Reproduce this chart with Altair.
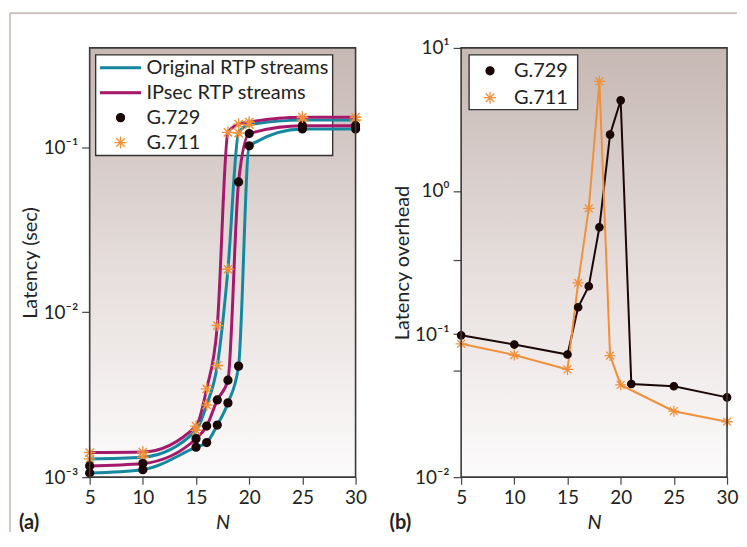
import altair as alt
import pandas as pd

# ---------------- data ----------------
N_A = [5, 10, 15, 16, 17, 18, 19, 20, 25, 30]
orig_g729 = [1.06e-3, 1.11e-3, 1.52e-3, 1.62e-3, 2.07e-3, 2.82e-3, 4.71e-3, 0.102, 0.129, 0.129]
orig_g711 = [1.29e-3, 1.32e-3, 1.92e-3, 2.74e-3, 4.75e-3, 0.0182, 0.122, 0.137, 0.146, 0.146]
ipsec_g729 = [1.17e-3, 1.21e-3, 1.71e-3, 2.04e-3, 2.94e-3, 3.87e-3, 0.0616, 0.121, 0.135, 0.135]
ipsec_g711 = [1.41e-3, 1.42e-3, 2.04e-3, 3.43e-3, 8.3e-3, 0.123, 0.138, 0.142, 0.152, 0.152]

N_B729 = [5, 10, 15, 16, 17, 18, 19, 20, 21, 25, 30]
ovh_g729 = [0.098, 0.0845, 0.072, 0.154, 0.216, 0.558, 2.48, 4.3, 0.0448, 0.0432, 0.0361]
N_B711 = [5, 10, 15, 16, 17, 18, 19, 20, 25, 30]
ovh_g711 = [0.0855, 0.0714, 0.0566, 0.228, 0.756, 5.83, 0.0708, 0.0441, 0.0289, 0.0244]

STREAMS = ["Original RTP streams", "IPsec RTP streams"]
CODECS = ["G.729", "G.711"]
X_TICKS = [5, 10, 15, 20, 25, 30]

# ---------------- style ----------------
WA, WB, H = 267, 267, 431
TEAL = "#15879f"
MAGENTA = "#a5196b"
ORANGE = "#f0903a"
BLACK = "#1c0707"
FRAME = "#3a3a3a"
OUTER = "#b9a29c"
FONT = "Lato"
STAR = "M-1.5,0L1.5,0M0,-1.5L0,1.5M-1.06,-1.06L1.06,1.06M-1.06,1.06L1.06,-1.06"
LINESYM = "M-5,-0.22L5,-0.22L5,0.22L-5,0.22Z"

GRAD = {
    "gradient": "linear", "x1": 0, "x2": 0, "y1": 0, "y2": 1,
    "stops": [
        {"offset": 0, "color": "#c6b8b3"},
        {"offset": 0.5, "color": "#e5dddb"},
        {"offset": 1, "color": "#fcfbfb"},
    ],
}

rows = []
for stream, codec, vals in [
    (STREAMS[0], "G.729", orig_g729),
    (STREAMS[0], "G.711", orig_g711),
    (STREAMS[1], "G.729", ipsec_g729),
    (STREAMS[1], "G.711", ipsec_g711),
]:
    for n, v in zip(N_A, vals):
        rows.append({"N": n, "value": v, "stream": stream, "codec": codec, "label": codec})
dfa = pd.DataFrame(rows)

rows = []
for codec, ns, vals in [("G.729", N_B729, ovh_g729), ("G.711", N_B711, ovh_g711)]:
    for n, v in zip(ns, vals):
        rows.append({"N": n, "value": v, "codec": codec, "lab": codec})
dfb = pd.DataFrame(rows)

one = pd.DataFrame({"k": [0]})


def x_enc():
    return alt.X(
        "N:Q",
        scale=alt.Scale(domain=[5, 30], nice=False, zero=False),
        axis=alt.Axis(values=X_TICKS, title="N", titleFontStyle="italic",
                      titleFontWeight="normal", titleFontSize=20, titleFont=FONT,
                      titlePadding=6, labelFontSize=19, labelFont=FONT,
                      labelColor="#222", titleColor="#222", tickSize=7,
                      tickColor="#444", tickWidth=1.2, labelPadding=4,
                      domain=False, grid=False, labelFlush=False),
    )


def y_axis(values, expr, title, tpad):
    return alt.Axis(values=values, labelExpr=expr, title=title, titleFontSize=20,
                    titleFont=FONT, titleFontWeight="normal", titleColor="#222",
                    labelFontSize=19, labelFont=FONT, labelColor="#222",
                    tickSize=8, tickColor="#444", tickWidth=1.2, labelPadding=4,
                    titlePadding=tpad, domain=False, grid=False)


def background(w):
    bg = alt.Chart(one).mark_rect(color=GRAD).encode(
        x=alt.value(0), x2=alt.value(w), y=alt.value(0), y2=alt.value(H))
    frame = alt.Chart(one).mark_rect(fillOpacity=0, stroke=FRAME, strokeWidth=1.6).encode(
        x=alt.value(0), x2=alt.value(w), y=alt.value(0), y2=alt.value(H))
    return bg, frame


def legend_box(x0, x1, y0, y1):
    return alt.Chart(one).mark_rect(fill="white", stroke="#333", strokeWidth=1.4).encode(
        x=alt.value(x0), x2=alt.value(x1), y=alt.value(y0), y2=alt.value(y1))


def legend(offset, sym_off, lab_off, row_pad):
    return alt.Legend(
        orient="top-left", offset=offset, padding=0, title=None,
        labelFontSize=20, labelFont=FONT, labelColor="#222", symbolSize=64,
        symbolOffset=sym_off, labelOffset=lab_off, rowPadding=row_pad,
        symbolStrokeWidth=1.3, labelLimit=400,
    )


# ---------------- panel (a) ----------------
bg_a, frame_a = background(WA)
LEG_A = STREAMS + CODECS
leg_a = legend(10, 11, 16, 5)

lines_a = alt.Chart(dfa).mark_line(interpolate="monotone", strokeWidth=3).encode(
    x=x_enc(),
    y=alt.Y("value:Q",
            scale=alt.Scale(type="log", domain=[0.001, 0.4], nice=False),
            axis=y_axis([0.001, 0.01, 0.1],
                        "datum.value < 0.005 ? '10⁻³' : datum.value < 0.05 ? '10⁻²' : '10⁻¹'",
                        "Latency (sec)", 3)),
    color=alt.Color("stream:N", scale=alt.Scale(domain=STREAMS, range=[TEAL, MAGENTA]), legend=None),
    detail="codec:N",
)

pts_a = alt.Chart(dfa).mark_point(filled=True, size=62, opacity=1, strokeWidth=1.4).encode(
    x="N:Q",
    y="value:Q",
    fill=alt.Fill("label:N", scale=alt.Scale(domain=LEG_A, range=[TEAL, MAGENTA, BLACK, ORANGE]), legend=leg_a),
    stroke=alt.Stroke("label:N", scale=alt.Scale(domain=LEG_A, range=[TEAL, MAGENTA, BLACK, ORANGE]), legend=leg_a),
    shape=alt.Shape("label:N", scale=alt.Scale(domain=LEG_A, range=[LINESYM, LINESYM, "circle", STAR]), legend=leg_a),
)

outer_top = alt.Chart(one).mark_rule(color=OUTER, strokeWidth=1.2).encode(
    x=alt.value(-80), x2=alt.value(650), y=alt.value(-35))
outer_left = alt.Chart(one).mark_rule(color=OUTER, strokeWidth=1.2).encode(
    x=alt.value(-80), y=alt.value(-35), y2=alt.value(486))
tag_a = alt.Chart(one).mark_text(text="(a)", align="left", baseline="alphabetic",
                                  fontSize=20, fontWeight="bold", font=FONT, color="#222").encode(
    x=alt.value(-71), y=alt.value(H + 52))

panel_a = alt.layer(bg_a, legend_box(6, 244, 7, 108), lines_a, pts_a, frame_a,
                    outer_top, outer_left, tag_a).properties(width=WA, height=H)

# ---------------- panel (b) ----------------
bg_b, frame_b = background(WB)
leg_b = legend(13, 6, 14, 7)

line_b729 = alt.Chart(dfb).transform_filter(alt.datum.codec == "G.729").mark_line(
    strokeWidth=2, color=BLACK).encode(
    x=x_enc(),
    y=alt.Y("value:Q",
            scale=alt.Scale(type="log", domain=[0.01, 10], nice=False),
            axis=y_axis([0.01, 0.056, 0.1, 0.33, 1, 10],
                        "datum.value == 10 ? '10¹' : datum.value == 1 ? '10⁰' : datum.value == 0.1 ? '10⁻¹' : datum.value == 0.01 ? '10⁻²' : ''",
                        "Latency overhead", 2)),
)
line_b711 = alt.Chart(dfb).transform_filter(alt.datum.codec == "G.711").mark_line(
    strokeWidth=2, color=ORANGE).encode(x="N:Q", y="value:Q")

pts_b = alt.Chart(dfb).mark_point(filled=True, size=55, opacity=1, strokeWidth=1.3).encode(
    x="N:Q",
    y="value:Q",
    fill=alt.Fill("lab:N", scale=alt.Scale(domain=CODECS, range=[BLACK, ORANGE]), legend=leg_b),
    stroke=alt.Stroke("lab:N", scale=alt.Scale(domain=CODECS, range=[BLACK, ORANGE]), legend=leg_b),
    shape=alt.Shape("lab:N", scale=alt.Scale(domain=CODECS, range=["circle", STAR]), legend=leg_b),
)

tag_b = alt.Chart(one).mark_text(text="(b)", align="left", baseline="alphabetic",
                                  fontSize=20, fontWeight="bold", font=FONT, color="#222").encode(
    x=alt.value(-72), y=alt.value(H + 52))

panel_b = alt.layer(bg_b, legend_box(8, 117, 7, 62), line_b729, line_b711, pts_b,
                    frame_b, tag_b).properties(width=WB, height=H)

chart = alt.hconcat(panel_a, panel_b, spacing=106, bounds="flush").resolve_scale(
    x="independent", y="independent", color="independent", fill="independent",
    stroke="independent", shape="independent",
).resolve_legend(
    fill="independent", stroke="independent", shape="independent",
).properties(
    padding={"left": 0, "top": 2, "right": 0, "bottom": 0},
    background="white",
).configure_view(stroke="transparent")

chart.save("out.html", embed_options={"renderer": "svg", "actions": False})
